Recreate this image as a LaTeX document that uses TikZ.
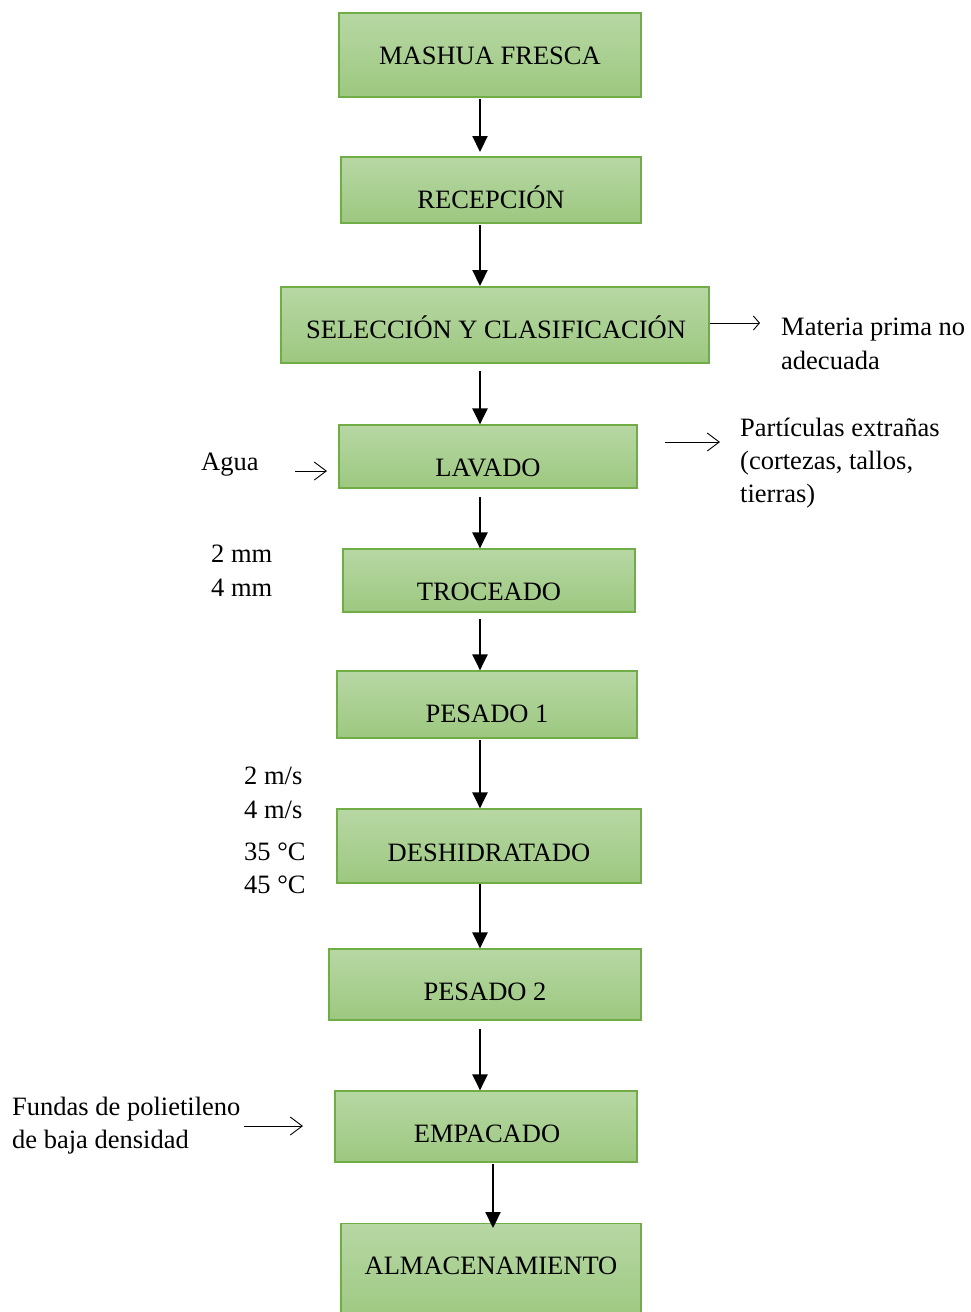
\documentclass[tikz,border=0pt]{standalone}
\usepackage{fontspec}
\setmainfont{Liberation Serif}
\usetikzlibrary{arrows.meta}
\definecolor{boxtop}{RGB}{183,215,164}
\definecolor{boxbot}{RGB}{157,200,128}
\definecolor{boxline}{RGB}{112,173,71}
\begin{document}
\begin{tikzpicture}[x=1pt,y=-1pt,
  stepbox/.style={draw=boxline, line width=1.2pt, top color=boxtop, bottom color=boxbot,
    minimum width=#1, inner sep=0pt},
  lbl/.style={inner sep=0pt, font=\fontsize{26.5}{33}\selectfont},
  flow/.style={line width=2.2pt, -{Triangle[width=15pt,length=16pt]}},
  side/.style={line width=0.9pt, -{Straight Barb[length=12pt,width=18pt,line width=0.9pt]}},
  sideshort/.style={line width=0.9pt, -{Straight Barb[length=6pt,width=14pt,line width=0.9pt]}}
]
\useasboundingbox (0,0) rectangle (970,1312);

% process boxes: (left, top) to (right, bottom)
\newcommand{\pbox}[5]{%
  \node[stepbox=#4-#2 pt, minimum height=#5-#3 pt] (#1) at ({(#2+#4)/2},{(#3+#5)/2}) {};}
\pbox{b1}{339}{13}{641}{97}
\pbox{b2}{341}{157}{641}{223}
\pbox{b3}{281}{287}{709}{363}
\pbox{b4}{339}{425}{637}{488}
\pbox{b5}{343}{549}{635}{612}
\pbox{b6}{337}{671}{637}{738}
\pbox{b7}{337}{809}{641}{883}
\pbox{b8}{329}{949}{641}{1020}
\pbox{b9}{335}{1091}{637}{1162}
\node[stepbox=300pt, minimum height=100pt, anchor=north] (b10) at (491,1223) {};

% box labels
\node[lbl, anchor=base] (t1) at (490,64) {MASHUA FRESCA};
\node[lbl, anchor=base] (t2) at (491,208) {RECEPCIÓN};
\node[lbl, anchor=base] (t3) at (496,338) {SELECCIÓN Y CLASIFICACIÓN};
\node[lbl, anchor=base] (t4) at (488,476) {LAVADO};
\node[lbl, anchor=base] (t5) at (489,600) {TROCEADO};
\node[lbl, anchor=base] (t6) at (487,722) {PESADO 1};
\node[lbl, anchor=base] (t7) at (489,861) {DESHIDRATADO};
\node[lbl, anchor=base] (t8) at (485,1000) {PESADO 2};
\node[lbl, anchor=base] (t9) at (487,1142) {EMPACADO};
\node[lbl, anchor=base] (t10) at (491,1274) {ALMACENAMIENTO};

% main flow
\draw[flow] (480,99) -- (480,152);
\draw[flow] (480,225) -- (480,286);
\draw[flow] (480,371) -- (b4.north -| 480,0);
\draw[flow] (480,497) -- (b5.north -| 480,0);
\draw[flow] (480,619) -- (b6.north -| 480,0);
\draw[flow] (480,740) -- (b7.north -| 480,0);
\draw[flow] (480,884) -- (b8.north -| 480,0);
\draw[flow] (480,1029) -- (b9.north -| 480,0);
\draw[flow] (493,1164) -- (493,1228);

% side inputs and outputs
\coordinate (o3) at (760,323);
\draw[sideshort] (b3.east |- 0,323) -- (o3);
\node[lbl, anchor=base west] (s3a) at (781,335) {Materia prima no};
\node[lbl, anchor=base west] (s3b) at (781,369) {adecuada};

\coordinate (o4) at (720,442);
\draw[side] (665,442) -- (o4);
\node[lbl, anchor=base west] (s4a) at (740,436) {Partículas extrañas};
\node[lbl, anchor=base west] (s4b) at (740,469) {(cortezas, tallos,};
\node[lbl, anchor=base west] (s4c) at (740,502) {tierras)};

\node[lbl, anchor=base west] (agua) at (201,470) {Agua};
\coordinate (i4) at (295,471);
\draw[side] (i4) -- (327,471);

\node[lbl, anchor=base west] (mm2) at (211,562) {2 mm};
\node[lbl, anchor=base west] (mm4) at (211,596) {4 mm};

\node[lbl, anchor=base west] (v2) at (244,784) {2 m/s};
\node[lbl, anchor=base west] (v4) at (244,818) {4 m/s};
\node[lbl, anchor=base west] (c35) at (244,860) {35 °C};
\node[lbl, anchor=base west] (c45) at (244,893) {45 °C};

\node[lbl, anchor=base west] (f1) at (12,1115) {Fundas de polietileno};
\node[lbl, anchor=base west] (f2) at (12,1148) {de baja densidad};
\coordinate (i9) at (244,1126);
\draw[side] (i9) -- (303,1126);
\end{tikzpicture}
\end{document}
